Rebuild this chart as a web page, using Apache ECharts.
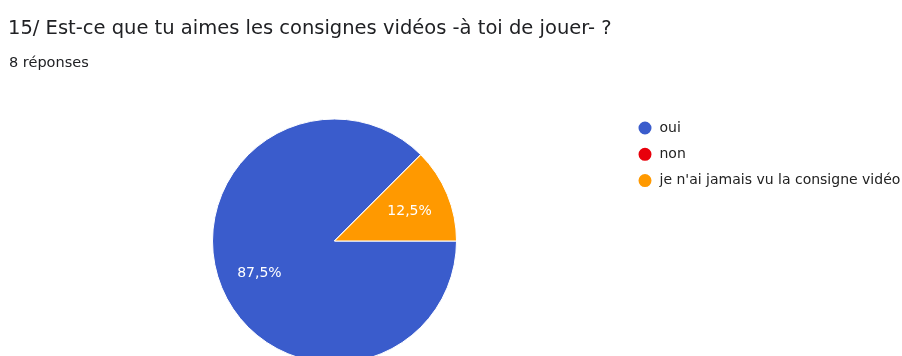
<!DOCTYPE html>
<html>
<head>
<meta charset="utf-8">
<script src="https://cdn.jsdelivr.net/npm/echarts@6/dist/echarts.min.js"></script>
<style>
html,body{margin:0;padding:0;background:#fff;}
#chart{width:902px;height:356px;}
</style>
</head>
<body>
<div id="chart"></div>
<script>
const titleText = "15/ Est-ce que tu aimes les consignes vidéos -à toi de jouer- ?";
const subtitleText = "8 réponses";
const categories = ["oui", "non", "je n'ai jamais vu la consigne vidéo"];
const values = [7, 0, 1];
const colors = ["#3a5ccc", "#e8000b", "#ff9900"];

const cx = 334.5, cy = 241, R = 122;
const FONT = 'DejaVu Sans';
const chart = echarts.init(document.getElementById('chart'));
chart.setOption({
  animation: false,
  color: colors,
  title: [
    { text: titleText, left: 8, top: 19, padding: 0,
      textStyle: { fontFamily: FONT, fontSize: 19.5, fontWeight: 'normal', color: '#202124' } },
    { text: subtitleText, left: 9, top: 56, padding: 0,
      textStyle: { fontFamily: FONT, fontSize: 14.5, fontWeight: 'normal', color: '#202124' } }
  ],
  legend: {
    orient: 'vertical', left: 636.5, top: 119.5, padding: 0,
    icon: 'circle', itemWidth: 15, itemHeight: 15, itemGap: 9.3,
    textStyle: { fontFamily: FONT, fontSize: 14, lineHeight: 15, color: '#222', padding: [0,0,0,2] },
    data: categories
  },
  series: [{
    type: 'pie',
    center: [cx, cy],
    radius: R,
    startAngle: 0,
    clockwise: true,
    avoidLabelOverlap: false,
    data: categories.map((c, i) => ({ name: c, value: values[i] })),
    itemStyle: { borderColor: '#fff', borderWidth: 1 },
    label: {
      show: true, position: 'inside',
      fontFamily: FONT, fontSize: 14, color: '#fff',
      formatter: p => p.value > 0 ? p.percent.toFixed(1).replace('.', ',') + '%' : ''
    },
    labelLine: { show: false },
    labelLayout: function (p) {
      const r = p.labelRect;
      const lx = r.x + r.width / 2, ly = r.y + r.height / 2;
      const k = 1.27;
      return { dx: (lx - cx) * (k - 1), dy: (ly - cy) * (k - 1) + 1 };
    },
    emphasis: { disabled: true }
  }]
});
</script>
</body>
</html>
